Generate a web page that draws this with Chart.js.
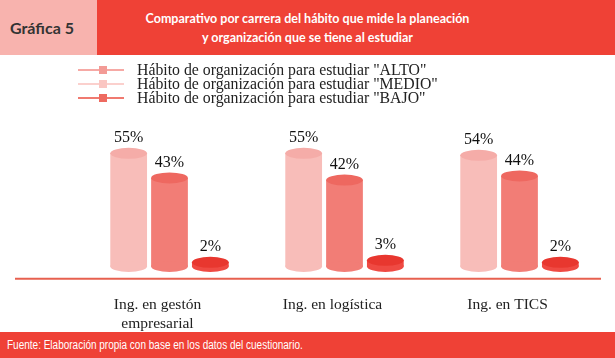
<!DOCTYPE html>
<html>
<head>
<meta charset="utf-8">
<script src="https://cdn.jsdelivr.net/npm/chart.js@4.4.0/dist/chart.umd.min.js"></script>
<style>
  body { margin: 0; width: 615px; height: 358px; overflow: hidden; background: #fff; position: relative; font-family: "Liberation Serif", serif; }
  #head { position: absolute; left: 0; top: 0; width: 615px; height: 55px; background: #ef4136; }
  #tag { position: absolute; left: 0; top: 0; width: 97px; height: 55px; background: #f8b3ae; color: #333; font: bold 16px Lato, sans-serif; line-height: 56px; padding-left: 10px; box-sizing: border-box; }
  #title { position: absolute; left: 110px; top: 9px; width: 395px; text-align: center; color: #fff; font: bold 12.5px Lato, sans-serif; line-height: 19px; }
  #wrap { position: absolute; left: 0; top: 55px; width: 615px; height: 291px; }
  #legend { position: absolute; left: 78px; top: 63px; font-size: 15.8px; color: #222; }
  .row { height: 14px; line-height: 14px; display: flex; align-items: center; }
  .sym { position: relative; width: 46px; height: 14px; margin-right: 13px; }
  .sym .ln { position: absolute; left: 0; right: 0; top: 6px; height: 2px; }
  .sym .sq { position: absolute; left: 21px; top: 3px; width: 8px; height: 8px; }
  #foot { position: absolute; left: 0; top: 332px; width: 615px; height: 26px; background: #ef4136; color: #fff; font: 12.5px "Liberation Sans", Arial, sans-serif; line-height: 26px; padding-left: 7px; box-sizing: border-box; }
  #foot span { display: inline-block; transform: scaleX(0.8); transform-origin: left center; white-space: nowrap; }
</style>
</head>
<body>
<div id="head"><div id="tag">Gráfica 5</div>
  <div id="title">Comparativo por carrera del hábito que mide la planeación<br>y organización que se tiene al estudiar</div></div>
<div id="wrap"><canvas id="chart"></canvas></div>
<div id="legend"></div>
<div id="foot"><span>Fuente: Elaboración propia con base en los datos del cuestionario.</span></div>
<script>
const categories = [['Ing. en gestón', 'empresarial'], 'Ing. en logística', 'Ing. en TICS'];
const seriesNames = ['Hábito de organización para estudiar "ALTO"', 'Hábito de organización para estudiar "MEDIO"', 'Hábito de organización para estudiar "BAJO"'];
const alto = [55, 55, 54];
const medio = [43, 42, 44];
const bajo = [2, 3, 2];

const bodyColors = ['#f8bdb9', '#f27d76', '#ef4a43'];
const topColors = ['#f5aca8', '#ee6860', '#e8372f'];
const legendLine = ['#f6a9a5', '#fbd0cd', '#f07a70'];
const legendSquare = ['#f39b96', '#fac6c2', '#ee6a60'];

const legend = document.getElementById('legend');
seriesNames.forEach((name, i) => {
    legend.innerHTML += `<div class="row"><div class="sym"><div class="ln" style="background:${legendLine[i]}"></div>` +
        `<div class="sq" style="background:${legendSquare[i]}"></div></div>${name}</div>`;
});

const cylinders = {
    id: 'cylinders',
    afterDatasetsDraw(chart) {
        const ctx = chart.ctx;
        chart.data.datasets.forEach((ds, di) => {
            chart.getDatasetMeta(di).data.forEach((bar, i) => {
                const rx = bar.width / 2, ry = 5.5;
                ctx.save();
                ctx.fillStyle = bodyColors[di];
                ctx.beginPath();
                ctx.ellipse(bar.x, bar.base, rx, ry, 0, 0, Math.PI * 2);
                ctx.fill();
                ctx.fillStyle = topColors[di];
                ctx.beginPath();
                ctx.ellipse(bar.x, bar.y, rx, ry, 0, 0, Math.PI * 2);
                ctx.fill();
                ctx.fillStyle = '#111';
                ctx.font = '16px "Liberation Serif", serif';
                ctx.textAlign = 'center';
                ctx.textBaseline = 'bottom';
                ctx.fillText(ds.data[i] + '%', bar.x, bar.y - ry - 2);
                ctx.restore();
            });
        });
        const a = chart.chartArea;
        ctx.save();
        ctx.strokeStyle = '#e7604f';
        ctx.lineWidth = 2;
        ctx.beginPath();
        ctx.moveTo(15, a.bottom);
        ctx.lineTo(chart.width - 14, a.bottom);
        ctx.stroke();
        ctx.restore();
    }
};

new Chart(document.getElementById('chart'), {
    type: 'bar',
    data: {
        labels: categories,
        datasets: [alto, medio, bajo].map((d, i) => ({
            label: seriesNames[i], data: d, backgroundColor: bodyColors[i], borderWidth: 0,
            barPercentage: 0.9, categoryPercentage: 0.7
        }))
    },
    options: {
        responsive: true, maintainAspectRatio: false, animation: false,
        layout: { padding: { left: 82, right: 8, top: 88, bottom: 4 } },
        plugins: { legend: { display: false }, tooltip: { enabled: false } },
        scales: {
            x: {
                grid: { display: false }, border: { display: false },
                ticks: { color: '#222', padding: 9, labelOffset: -12, font: { family: '"Liberation Serif", serif', size: 15.5, lineHeight: 1.2 } }
            },
            y: { display: false, min: -6, max: 60 }
        }
    },
    plugins: [cylinders]
});
</script>
</body>
</html>
